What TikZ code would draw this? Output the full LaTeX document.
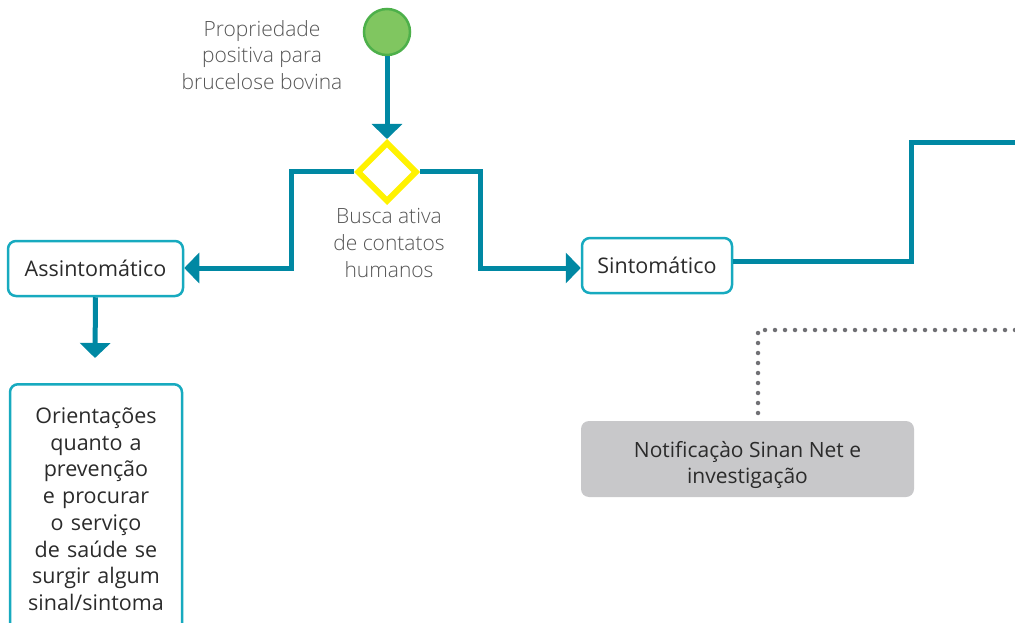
\documentclass[tikz,border=0pt]{standalone}
\usepackage{fontspec}
\setmainfont{Open Sans}
\IfFontExistsTF{Open Sans Light}{\newfontfamily\lightfont{Open Sans Light}}{\newfontfamily\lightfont{Open Sans}}
\usetikzlibrary{arrows.meta,shapes.geometric}
\definecolor{teal}{HTML}{0088A3}
\definecolor{boxcyan}{HTML}{17AABF}
\definecolor{textgray}{HTML}{2B2B2B}
\definecolor{lightgray}{HTML}{555555}
\definecolor{notegray}{HTML}{C8C8CA}
\definecolor{dotgray}{HTML}{707074}
\definecolor{greenfill}{HTML}{80C660}
\definecolor{greenedge}{HTML}{4DB04A}
\definecolor{diayellow}{HTML}{FFF200}
\tikzset{
  flow/.style={draw=teal, line width=5pt},
  arr/.style={flow, -{Triangle[width=30pt,length=15pt]}},
  stepbox/.style={draw=boxcyan, line width=2.5pt, rounded corners=8pt, fill=white,
    font=\fontsize{21.5}{26.7}\selectfont, text=textgray, align=center, inner sep=0pt},
  lbl/.style={font=\lightfont\fontsize{21}{26.7}\selectfont, text=lightgray, align=center},
}
\begin{document}
\begin{tikzpicture}[x=1pt,y=-1pt]
\useasboundingbox (0,0) rectangle (1015,623);
% nodes
\node[circle, draw=greenedge, fill=greenfill, line width=2.5pt, minimum size=46pt, inner sep=0pt] (start) at (387,32) {};
\node[lbl] (lstart) at (262,55) {Propriedade\\positiva para\\brucelose bovina};
\node[diamond, draw=diayellow, line width=6pt, fill=white, minimum width=60pt, minimum height=60pt, inner sep=0pt] (dec) at (387,172) {};
\node[lbl] (ldec) at (389,243) {Busca ativa\\de contatos\\humanos};
\node[stepbox, minimum width=175pt, minimum height=55pt] (asin) at (95.5,268.5) {Assintomático};
\node[stepbox, minimum width=150pt, minimum height=55pt] (sin) at (657,265.5) {Sintomático};
\node[stepbox, text width=172pt, minimum height=250pt, anchor=north] (ori) at (96,383)
  {Orientações\\quanto a\\prevenção\\e procurar\\o serviço\\de saúde se\\surgir algum\\sinal/sintoma};
\node[fill=notegray, rounded corners=8pt, minimum width=333pt, minimum height=76pt,
  font=\fontsize{21}{26.7}\selectfont, text=textgray, align=center] (note) at (747.5,459)
  {};
\node[font=\fontsize{21}{26.7}\selectfont, text=textgray, align=center] (notetext) at (747.5,465)
  {Notificaçào Sinan Net e\\investigação};
\coordinate (oriTop) at (95,358);
\coordinate (rEnd) at (1015,143);
\coordinate (dEnd) at (1015,330);
% connectors
\draw[arr] (start.south) -- (dec.north);
\draw[arr] (dec.west) -- (291,172) -- (291,268) -- (asin.east |- 0,268);
\draw[arr] (dec.east) -- (480,172) -- (480,268) -- (sin.west |- 0,268);
\draw[arr] (asin.south) -- (oriTop);
\draw[flow] (sin.east |- 0,261) -- (911,261) -- (911,143) -- (rEnd);
\draw[dotgray, line width=4.5pt, line cap=round, dash pattern=on 0pt off 10pt] (dEnd) -- (758,330) -- (758,420) -- (note.north -| 758,0);
\end{tikzpicture}
\end{document}
